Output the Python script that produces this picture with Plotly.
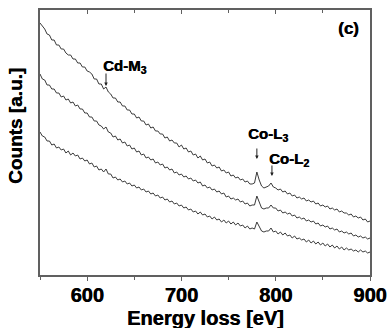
import plotly.graph_objects as go

# Energy loss grid (eV), 2.5 eV steps from 550 to 900
energy = [550 + 2.5 * i for i in range(141)]

# Counts (arbitrary units), three spectra (rows of 25 eV)
counts_top = [
    252, 249, 246, 241, 240, 235, 235, 230, 230, 226,
    226, 222, 220, 220, 216, 216, 212, 212, 208, 208,
    204, 203, 201, 196, 196, 191, 191, 186, 188, 183,
    181, 177, 177, 173, 173, 169, 169, 165, 165, 161,
    161, 157, 158, 154, 154, 150, 151, 147, 148, 144,
    144, 141, 141, 137, 138, 134, 135, 132, 132, 128,
    130, 126, 127, 123, 124, 120, 121, 117, 119, 115,
    116, 112, 113, 109, 110, 107, 108, 104, 105, 102,
    103, 99, 100, 97, 98, 95, 96, 93, 94, 91,
    91, 92, 103, 95, 89, 87, 88, 89, 92, 88,
    87, 85, 86, 83, 84, 81, 82, 79, 80, 77,
    78, 76, 77, 74, 75, 73, 74, 71, 72, 69,
    70, 68, 69, 66, 67, 65, 66, 63, 64, 62,
    62, 60, 61, 58, 59, 57, 58, 55, 56, 53,
    54]

counts_mid = [
    201, 196, 195, 190, 190, 186, 186, 182, 182, 178,
    179, 175, 176, 172, 173, 169, 170, 166, 166, 162,
    162, 158, 158, 154, 154, 150, 149, 146, 148, 143,
    142, 138, 139, 135, 136, 132, 133, 129, 130, 126,
    127, 123, 124, 120, 121, 117, 118, 115, 116, 112,
    113, 110, 111, 107, 108, 105, 106, 102, 103, 100,
    101, 98, 99, 96, 97, 94, 95, 92, 93, 89,
    90, 87, 88, 85, 86, 83, 84, 81, 82, 78,
    79, 76, 77, 75, 76, 73, 74, 71, 72, 69,
    70, 70, 79, 72, 67, 66, 67, 67, 70, 67,
    67, 64, 65, 62, 63, 61, 62, 59, 60, 57,
    58, 56, 57, 54, 55, 53, 54, 51, 52, 49,
    50, 48, 49, 46, 47, 45, 46, 43, 44, 42,
    43, 41, 42, 39, 40, 38, 39, 37, 38, 36,
    37]

counts_bot = [
    143, 139, 138, 134, 134, 130, 131, 127, 128, 125,
    126, 122, 124, 120, 122, 119, 120, 116, 117, 114,
    115, 111, 112, 108, 109, 105, 106, 103, 106, 101,
    101, 97, 98, 95, 96, 93, 94, 91, 92, 89,
    90, 87, 88, 85, 86, 83, 84, 81, 82, 79,
    80, 77, 78, 75, 76, 73, 74, 71, 72, 69,
    70, 67, 68, 65, 66, 63, 64, 61, 63, 60,
    61, 58, 59, 56, 58, 55, 56, 53, 55, 52,
    54, 51, 53, 50, 52, 49, 50, 47, 49, 46,
    47, 46, 53, 48, 44, 43, 44, 44, 47, 43,
    44, 41, 43, 40, 42, 39, 40, 37, 39, 36,
    37, 35, 36, 33, 35, 32, 34, 31, 33, 30,
    32, 29, 31, 28, 30, 27, 29, 26, 28, 25,
    27, 25, 26, 24, 25, 23, 25, 23, 24, 22,
    23]

x_ticks = [600, 700, 800, 900]
x_tick_labels = ["600", "700", "800", "900"]

FONT = "Liberation Sans"
LINE = "#3a3a3a"
FRAME = "#606060"
THICK = "0.5px 0 0 #000"

fig = go.Figure()
for ys in (counts_top, counts_mid, counts_bot):
    fig.add_trace(go.Scatter(x=energy, y=ys, mode="lines",
                             line=dict(color=LINE, width=1), showlegend=False,
                             hoverinfo="skip"))

fig.update_layout(
    width=387, height=328,
    margin=dict(l=40, r=17, t=10, b=53, autoexpand=False),
    paper_bgcolor="white", plot_bgcolor="white",
    font=dict(family=FONT, color="black"),
    xaxis=dict(range=[550, 900], tickvals=x_ticks,
               ticktext=["<b>%s</b>" % t for t in x_tick_labels],
               ticks="outside", ticklen=4, tickcolor=FRAME, tickwidth=1.2,
               minor=dict(dtick=50, tick0=550, ticks="outside", ticklen=3, tickcolor=FRAME),
               showline=True, linecolor=FRAME, linewidth=1.5, showgrid=False, zeroline=False,
               automargin=False, ticklabelstandoff=-3,
               tickfont=dict(size=20, family=FONT, color="black", shadow=THICK)),
    xaxis2=dict(range=[550, 900], overlaying="x", side="top", tickvals=x_ticks,
                ticks="inside", ticklen=4, tickcolor=FRAME, tickwidth=1.2,
                minor=dict(dtick=50, tick0=550, ticks="inside", ticklen=3, tickcolor=FRAME),
                showticklabels=False, showline=True, linecolor=FRAME, linewidth=1.5,
                showgrid=False, zeroline=False, automargin=False),
    yaxis=dict(range=[0, 265], showticklabels=False, ticks="", showline=True,
               mirror=True, linecolor=FRAME, linewidth=1.5, showgrid=False, zeroline=False,
               automargin=False),
)
# empty trace so the top axis is drawn
fig.add_trace(go.Scatter(x=[550], y=[None], xaxis="x2", showlegend=False, hoverinfo="skip"))

ann_font = dict(family=FONT, size=15, color="black", shadow=THICK)
fig.add_annotation(x=877, y=247, text="<b>(c)</b>", showarrow=False,
                   font=dict(family=FONT, size=17, color="black", shadow=THICK))
fig.add_annotation(x=640, y=209, text="<b>Cd-M<sub>3</sub></b>", showarrow=False, font=ann_font)
fig.add_annotation(x=792, y=141, text="<b>Co-L<sub>3</sub></b>", showarrow=False, font=ann_font)
fig.add_annotation(x=814, y=116, text="<b>Co-L<sub>2</sub></b>", showarrow=False, font=ann_font)

for (ex, cy, ln) in [(620, 189, 14), (780, 116, 12), (796, 99, 12)]:
    fig.add_annotation(x=ex, y=cy, ax=0, ay=-ln, text="", showarrow=True,
                       arrowhead=2, arrowsize=0.7, arrowwidth=1, arrowcolor="#222")

fig.add_annotation(xref="paper", yref="paper", x=0.5, y=(275 - 318) / 265,
                   xanchor="center", yanchor="middle",
                   text="<b>Energy loss [eV]</b>", showarrow=False,
                   font=dict(family=FONT, size=20, color="black", shadow=THICK))
fig.add_annotation(xref="paper", yref="paper", x=(15 - 40) / 330, y=(275 - 126) / 265,
                   xanchor="center", yanchor="middle",
                   text="<b>Counts [a.u.]</b>", textangle=-90, showarrow=False,
                   font=dict(family=FONT, size=19, color="black", shadow=THICK))

fig.write_html("out.html")
